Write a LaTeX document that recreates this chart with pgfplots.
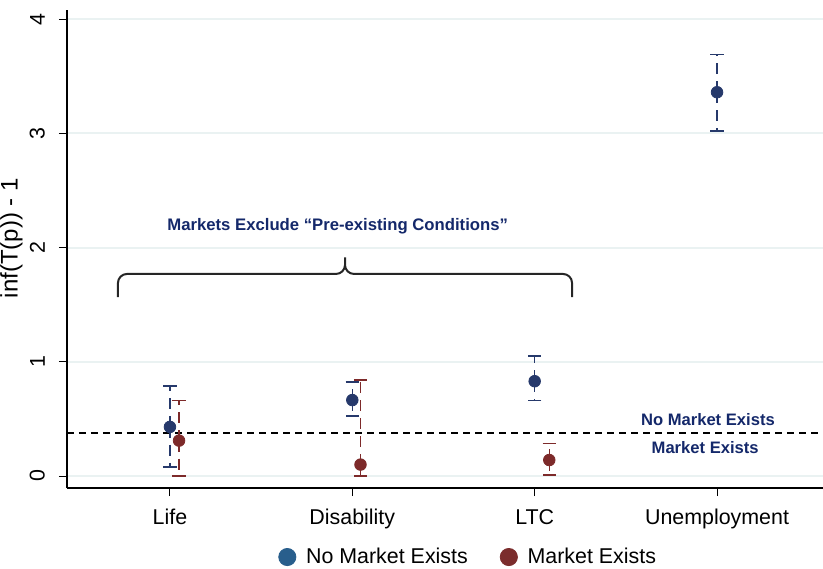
\documentclass[border=0pt]{standalone}
\usepackage{fontspec}
\setmainfont{Liberation Sans}
\usepackage{pgfplots}
\pgfplotsset{compat=1.18}

\definecolor{ptblue}{HTML}{26396B}
\definecolor{ptred}{HTML}{7D2A2A}
\definecolor{legblue}{HTML}{285E8C}
\definecolor{legred}{HTML}{7B2D2D}
\definecolor{annot}{HTML}{14286A}
\definecolor{gridc}{RGB}{234,242,242}

% point estimate, upper and lower error
\pgfplotstableread{
x     y      ep     em
1     0.43   0.36   0.35
2     0.665  0.16   0.14
3     0.83   0.22   0.17
4     3.36   0.33   0.34
}\nomarket
\pgfplotstableread{
x     y      ep     em
1.05  0.31   0.35   0.31
2.045 0.10   0.74   0.10
3.08  0.14   0.145  0.13
}\market

\begin{document}
\begin{tikzpicture}
\useasboundingbox (-33.5pt,-40pt) rectangle (378pt,244pt);
\begin{axis}[
  at={(0,0)}, anchor=south west,
  scale only axis,
  width=378pt, height=239pt,
  xmin=0.4356, xmax=4.581,
  ymin=-0.105, ymax=4.08,
  axis lines*=left,
  axis line style={line width=0.6pt},
  clip=false,
  font=\fontsize{10.7}{12}\selectfont,
  /pgf/number format/assume math mode=true,
  xtick={1,2,3,4},
  xticklabels={Life,Disability,LTC,Unemployment},
  ytick={0,1,2,3,4},
  tick align=outside,
  major tick length=4pt,
  tick style={black, line width=0.5pt},
  xticklabel shift=3pt,
  yticklabel shift=3.5pt,
  yticklabel style={rotate=90, anchor=south},
  ymajorgrids,
  major grid style={color=gridc, line width=1pt},
  ylabel={inf(T(p)) - 1},
  y label style={at={(axis description cs:-0.0735,0.523)}, anchor=center, font=\fontsize{12}{14}\selectfont},
  error bars/error bar style={line width=0.7pt, dash pattern=on 5.5pt off 3.5pt},
  error bars/error mark options={rotate=90, mark size=3.3pt, line width=0.8pt, solid},
  legend columns=2,
  legend image code/.code={\draw[#1] plot coordinates {(0pt,0pt)}; \path (-4.3pt,0pt) (7.2pt,0pt);},
  legend style={draw=none, at={(axis description cs:0.532,-0.1444)}, anchor=center,
    font=\fontsize{10.7}{12}\selectfont,
    /tikz/every even column/.append style={column sep=14pt}},
]
\addplot[black, line width=1pt, dash pattern=on 3.5pt off 2.5pt, forget plot]
  coordinates {(0.4356,0.375) (4.581,0.375)};

\addplot[only marks, mark=*, mark size=2.9pt, color=ptblue, forget plot,
  error bars/.cd, y dir=both, y explicit]
  table[x=x, y=y, y error plus=ep, y error minus=em] {\nomarket};
\addplot[only marks, mark=*, mark size=2.9pt, color=ptred, forget plot,
  error bars/.cd, y dir=both, y explicit]
  table[x=x, y=y, y error plus=ep, y error minus=em] {\market};

\addlegendimage{only marks, mark=*, mark size=4.3pt, color=legblue}
\addlegendentry{No Market Exists}
\addlegendimage{only marks, mark=*, mark size=4.3pt, color=legred}
\addlegendentry{Market Exists}

% curly brace over the first three categories
\draw[line width=1pt, black!85, rounded corners=4.5pt]
  (axis cs:0.715,1.567) |- (axis cs:1.96,1.769) -- (axis cs:1.96,1.961)
  -- (axis cs:1.96,1.769) -| (axis cs:3.205,1.567);
\node[font=\bfseries\fontsize{8.35}{10}\selectfont, text=annot] at (axis cs:1.92,2.19)
  {Markets Exclude “Pre-existing Conditions”};
\node[font=\bfseries\fontsize{8.3}{10}\selectfont, text=annot] at (axis cs:3.95,0.49)
  {No Market Exists};
\node[font=\bfseries\fontsize{8.3}{10}\selectfont, text=annot] at (axis cs:3.935,0.245)
  {Market Exists};
\end{axis}
\end{tikzpicture}
\end{document}
